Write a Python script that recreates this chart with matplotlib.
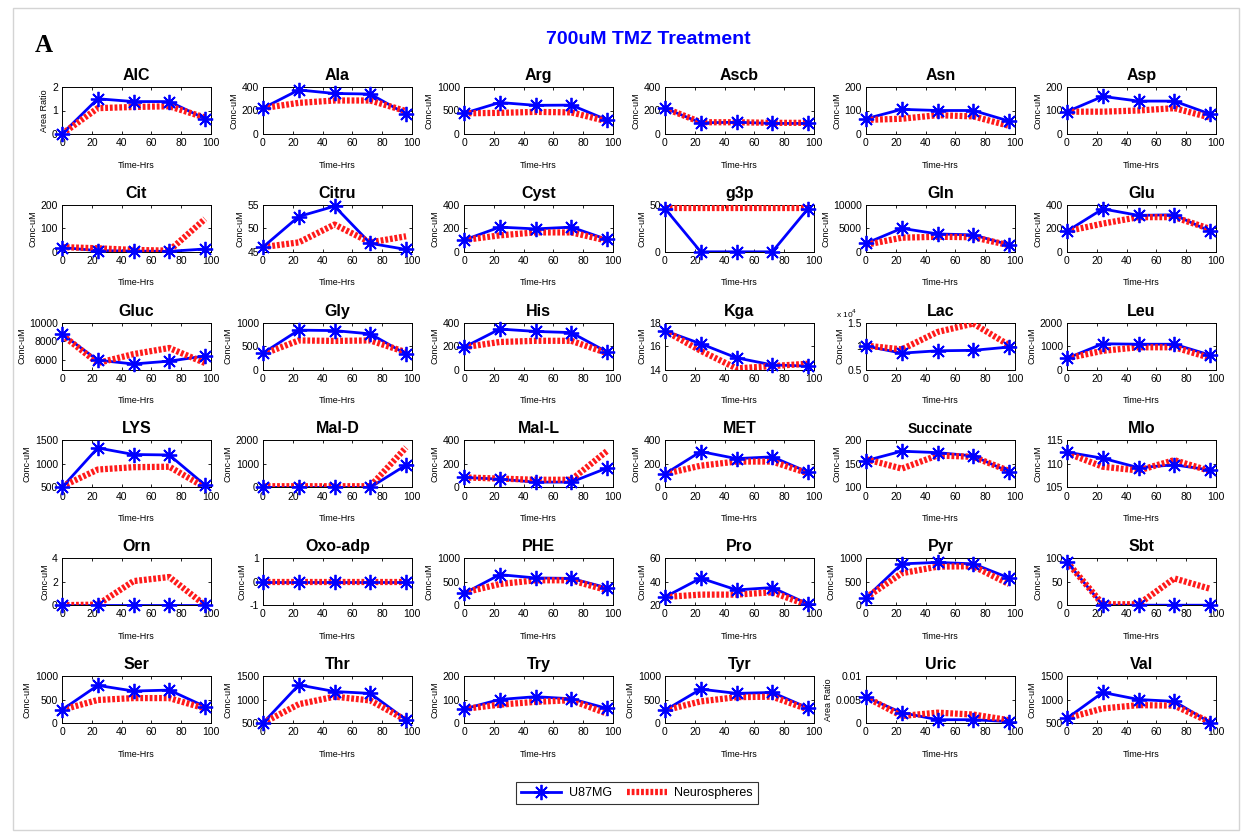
import matplotlib
matplotlib.use("Agg")
import matplotlib.pyplot as plt
from matplotlib.lines import Line2D
from matplotlib.patches import Rectangle
from matplotlib.ticker import FuncFormatter

plt.rcParams['font.family'] = ['Liberation Sans Narrow', 'Liberation Sans', 'DejaVu Sans']

# Sampling times (hours)
time_hrs = [0, 24, 48, 72, 96]

names = ["AIC", "Ala", "Arg", "Ascb", "Asn", "Asp",
         "Cit", "Citru", "Cyst", "g3p", "Gln", "Glu",
         "Gluc", "Gly", "His", "Kga", "Lac", "Leu",
         "LYS", "Mal-D", "Mal-L", "MET", "Succinate", "Mlo",
         "Orn", "Oxo-adp", "PHE", "Pro", "Pyr", "Sbt",
         "Ser", "Thr", "Try", "Tyr", "Uric", "Val"]

u87 = [
    [0, 1.5, 1.38, 1.38, 0.65],
    [220, 375, 345, 340, 170],
    [440, 670, 610, 615, 300],
    [220, 95, 100, 90, 90],
    [65, 105, 100, 100, 55],
    [95, 160, 140, 140, 85],
    [18, 5, 3, 2, 12],
    [46, 52.5, 54.7, 46.8, 45.5],
    [100, 210, 195, 210, 105],
    [46, 0, 0, 0, 46],
    [1800, 5000, 3800, 3600, 1500],
    [175, 365, 310, 315, 175],
    [8800, 6000, 5600, 5900, 6450],
    [350, 840, 830, 760, 330],
    [190, 345, 325, 315, 150],
    [17.3, 16.2, 15.0, 14.4, 14.3],
    [10000, 8500, 9000, 9100, 9800],
    [480, 1100, 1080, 1080, 620],
    [500, 1340, 1200, 1190, 550],
    [0, 0, 0, 0, 950],
    [85, 70, 45, 45, 165],
    [115, 305, 245, 260, 130],
    [157, 177, 174, 167, 133],
    [112.5, 111.2, 109.2, 109.8, 108.7],
    [0, 0, 0, 0, 0],
    [0, 0, 0, 0, 0],
    [250, 650, 580, 570, 370],
    [27, 43, 33, 35, 21],
    [160, 880, 910, 880, 580],
    [92, 0, 0, 0, 0],
    [280, 800, 680, 700, 350],
    [500, 1310, 1170, 1130, 570],
    [60, 100, 112, 103, 62],
    [270, 720, 630, 650, 320],
    [0.0055, 0.0022, 0.0007, 0.0007, 0.0003],
    [600, 1150, 1000, 960, 510],
]

neuro = [
    [0, 1.1, 1.15, 1.18, 0.7],
    [220, 265, 285, 285, 195],
    [440, 450, 470, 460, 270],
    [220, 100, 100, 95, 95],
    [60, 65, 80, 75, 35],
    [95, 95, 100, 110, 70],
    [20, 15, 8, 5, 140],
    [46, 47, 50.8, 47, 48.3],
    [100, 140, 165, 165, 95],
    [47, 47, 47, 47, 47],
    [1500, 3000, 3200, 3100, 1400],
    [175, 240, 295, 295, 195],
    [8700, 5700, 6650, 7300, 5700],
    [330, 620, 610, 620, 370],
    [190, 235, 245, 245, 140],
    [17.3, 15.6, 14.1, 14.3, 14.5],
    [10100, 9300, 13000, 14800, 10200],
    [480, 800, 950, 950, 500],
    [520, 880, 930, 940, 500],
    [50, 50, 50, 50, 1700],
    [85, 75, 65, 65, 310],
    [115, 185, 220, 220, 120],
    [160, 140, 168, 165, 135],
    [112.3, 109.4, 108.6, 110.8, 108.5],
    [0, 0.05, 2.05, 2.4, 0],
    [0, 0, 0, 0, 0],
    [270, 450, 530, 530, 320],
    [27, 29, 29, 31, 20],
    [160, 680, 820, 830, 450],
    [92, 2, 2, 57, 35],
    [280, 490, 530, 530, 310],
    [500, 900, 1060, 980, 560],
    [60, 78, 90, 97, 40],
    [270, 460, 550, 560, 290],
    [0.0055, 0.0015, 0.0022, 0.0018, 0.0006],
    [600, 810, 880, 870, 520],
]

y_ticks = [
    [0, 1, 2], [0, 200, 400], [0, 500, 1000], [0, 200, 400], [0, 100, 200], [0, 100, 200],
    [0, 100, 200], [45, 50, 55], [0, 200, 400], [0, 50], [0, 5000, 10000], [0, 200, 400],
    [6000, 8000, 10000], [0, 500, 1000], [0, 200, 400], [14, 16, 18], [5000, 10000, 15000], [0, 1000, 2000],
    [500, 1000, 1500], [0, 1000, 2000], [0, 200, 400], [0, 200, 400], [100, 150, 200], [105, 110, 115],
    [0, 2, 4], [-1, 0, 1], [0, 500, 1000], [20, 40, 60], [0, 500, 1000], [0, 50, 100],
    [0, 500, 1000], [500, 1000, 1500], [0, 100, 200], [0, 500, 1000], [0, 0.005, 0.01], [500, 1000, 1500],
]

y_limits = [
    (0, 2), (0, 400), (0, 1000), (0, 400), (0, 200), (0, 200),
    (0, 200), (45, 55), (0, 400), (0, 50), (0, 10000), (0, 400),
    (5000, 10000), (0, 1000), (0, 400), (14, 18), (5000, 15000), (0, 2000),
    (500, 1500), (0, 2000), (0, 400), (0, 400), (100, 200), (105, 115),
    (0, 4), (-1, 1), (0, 1000), (20, 60), (0, 1000), (0, 100),
    (0, 1000), (500, 1500), (0, 200), (0, 1000), (0, 0.01), (500, 1500),
]

y_labels = ["Area Ratio"] + ["Conc-uM"] * 33 + ["Area Ratio", "Conc-uM"]

series_labels = ["U87MG", "Neurospheres"]

BLUE = "#0000ff"
RED = "#ff1a1a"
ASTERISK = (8, 2, 0)
RED_DASH = (0, (0.45, 0.3))

W, H = 1251, 834
fig = plt.figure(figsize=(W / 100, H / 100), dpi=100)

# light page frame
fig.patches.append(Rectangle((13 / W, 4 / H), 1226 / W, 822 / H, transform=fig.transFigure,
                             fill=False, edgecolor="#d4d4d4", lw=1.0))

fig.text(648 / W, 1 - 40 / H, "700uM TMZ Treatment", color=BLUE, fontsize=14,
         fontweight="bold", ha="center", va="center")
fig.text(44 / W, 1 - 45 / H, "A", family="Liberation Serif", fontsize=18,
         fontweight="bold", ha="center", va="center")

ax_w, ax_h = 149, 47
for i, name in enumerate(names):
    r, c = divmod(i, 6)
    left = 62 + 201 * c
    bottom = 134 + 117.8 * r
    ax = fig.add_axes([left / W, 1 - bottom / H, ax_w / W, ax_h / H])

    ax.plot(time_hrs, u87[i], color=BLUE, lw=2.0, zorder=2)
    ax.plot(time_hrs, neuro[i], color=RED, lw=4.5, linestyle=RED_DASH,
            dash_capstyle="butt", zorder=3)
    ax.plot(time_hrs, u87[i], linestyle="none", marker=ASTERISK, markersize=11,
            markeredgewidth=1.3, markeredgecolor=BLUE, zorder=4, clip_on=False)

    ax.set_xlim(0, 100)
    ax.set_xticks([0, 20, 40, 60, 80, 100])
    ax.set_ylim(*y_limits[i])
    ax.set_yticks(y_ticks[i])
    if name == "Lac":
        ax.yaxis.set_major_formatter(FuncFormatter(lambda v, p: "%g" % (v / 1e4)))
        ax.text(-0.2, 1.06, r"x 10$^{4}$", transform=ax.transAxes, fontsize=6,
                ha="left", va="bottom")
    else:
        ax.yaxis.set_major_formatter(FuncFormatter(lambda v, p: "%g" % v))

    ax.tick_params(direction="in", length=2, width=0.6, labelsize=7.5, pad=3,
                   top=True, right=True)
    for s in ax.spines.values():
        s.set_linewidth(0.7)

    if name == "Succinate":
        ax.set_title(name, fontsize=10, fontweight="bold", family="Liberation Sans", pad=5)
    else:
        ax.set_title(name, fontsize=11.5, fontweight="bold", pad=5)
    ax.set_xlabel("Time-Hrs", fontsize=6.5, labelpad=9)
    ax.set_ylabel(y_labels[i], fontsize=6.5, labelpad=2, family="Liberation Sans")

handles = [
    Line2D([], [], color=BLUE, lw=2.0, marker=ASTERISK, markersize=11,
           markeredgewidth=1.3, markeredgecolor=BLUE),
    Line2D([], [], color=RED, lw=4.5, linestyle=RED_DASH, dash_capstyle="butt"),
]
leg = fig.legend(handles, series_labels, loc="center", ncol=2,
                 bbox_to_anchor=(637 / W, 1 - 793 / H), frameon=True, fancybox=False,
                 edgecolor="black", fontsize=9, handlelength=3.2, columnspacing=1.2,
                 borderpad=0.4, handletextpad=0.6)
leg.get_frame().set_linewidth(0.8)

fig.savefig("out.png", dpi=100, facecolor="white")
